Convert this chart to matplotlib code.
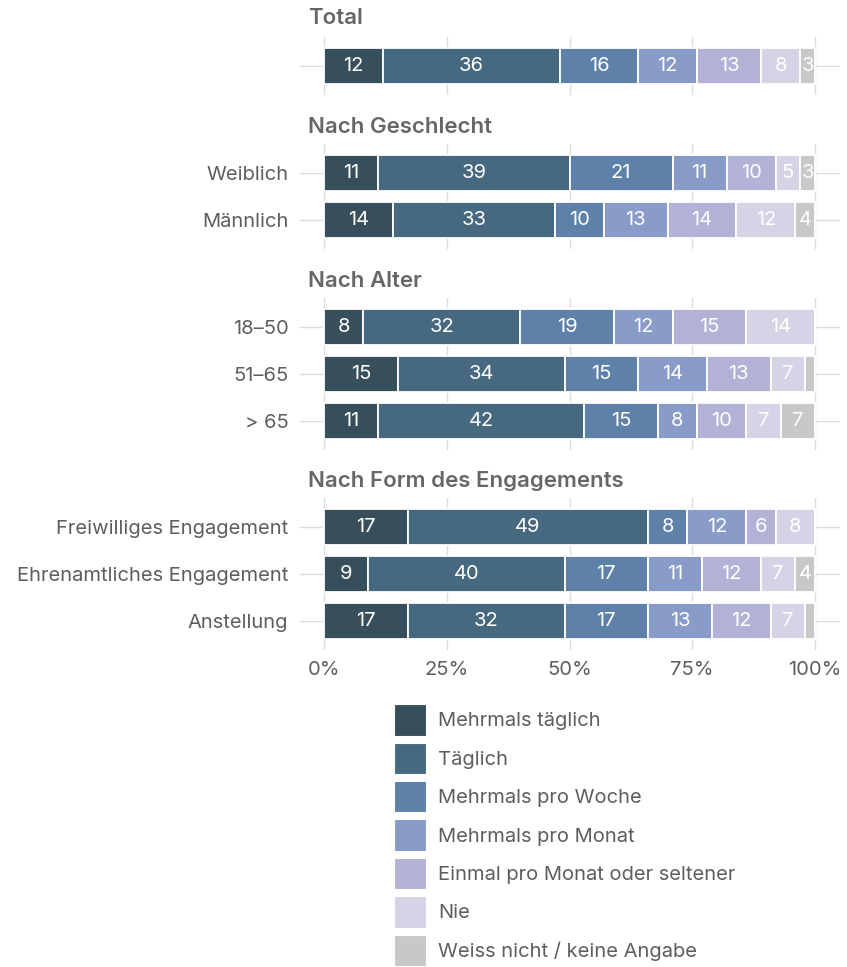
import matplotlib
matplotlib.use("Agg")
import matplotlib.pyplot as plt
from matplotlib.patches import Patch
import numpy as np

plt.rcParams['font.family'] = ['Inter', 'DejaVu Sans']

W, H = 847, 967

group_titles = ["Total", "Nach Geschlecht", "Nach Alter", "Nach Form des Engagements"]
group_rows = [
    [""],
    ["Weiblich", "Männlich"],
    ["18–50", "51–65", "> 65"],
    ["Freiwilliges Engagement", "Ehrenamtliches Engagement", "Anstellung"],
]

series_names = ["Mehrmals täglich", "Täglich", "Mehrmals pro Woche", "Mehrmals pro Monat",
                "Einmal pro Monat oder seltener", "Nie", "Weiss nicht / keine Angabe"]

# values per row, in order: Total, Weiblich, Männlich, 18–50, 51–65, > 65, Freiwilliges, Ehrenamtliches, Anstellung
mehrmals_taeglich = [12, 11, 14, 8, 15, 11, 17, 9, 17]
taeglich = [36, 39, 33, 32, 34, 42, 49, 40, 32]
mehrmals_woche = [16, 21, 10, 19, 15, 15, 8, 17, 17]
mehrmals_monat = [12, 11, 13, 12, 14, 8, 12, 11, 13]
einmal_monat = [13, 10, 14, 15, 13, 10, 6, 12, 12]
nie = [8, 5, 12, 14, 7, 7, 8, 7, 7]
weiss_nicht = [3, 3, 4, 0, 2, 7, 0, 4, 2]

x_ticks = [0, 25, 50, 75, 100]
x_ticklabels = ["0%", "25%", "50%", "75%", "100%"]

colors = ["#374e5b", "#46697f", "#5d81a9", "#899bc9", "#b2b2d7", "#d5d3e6", "#c8c8c8"]

series = [mehrmals_taeglich, taeglich, mehrmals_woche, mehrmals_monat, einmal_monat, nie, weiss_nicht]

fig = plt.figure(figsize=(W / 100, H / 100), dpi=100)

row_px = 47.0
pad = 0.62
left_px, right_px = 299.5, 839.5
centers_first = [66, 173, 327, 527]
title_y = [18, 127, 281, 481]
text_col = "#5e5e5e"
grid_col = "#dddddd"
fs = 14.5

row_index = 0
for g, (title, rows) in enumerate(zip(group_titles, group_rows)):
    n = len(rows)
    top = centers_first[g] - pad * row_px
    height = (n - 1 + 2 * pad) * row_px
    ax = fig.add_axes([left_px / W, 1 - (top + height) / H, (right_px - left_px) / W, height / H])
    ax.set_xlim(-5, 105)
    ax.set_ylim(n - 1 + pad, -pad)
    ax.set_axisbelow(True)
    for s in ax.spines.values():
        s.set_visible(False)
    ypos = np.arange(n)
    left = np.zeros(n)
    for k, vals in enumerate(series):
        v = np.array(vals[row_index:row_index + n], dtype=float)
        ax.barh(ypos, v, left=left, height=0.745, color=colors[k], edgecolor="white", linewidth=1.3)
        for i in range(n):
            if v[i] >= 3:
                ax.text(left[i] + v[i] / 2, ypos[i], f"{int(v[i])}", ha="center", va="center",
                        color="white", fontsize=fs)
        left = left + v
    ax.set_yticks(ypos)
    ax.set_yticklabels(rows, fontsize=fs, color=text_col)
    ax.set_xticks(x_ticks)
    ax.tick_params(axis="both", length=0)
    ax.tick_params(axis="y", pad=8)
    ax.grid(True, axis="both", color=grid_col, linewidth=1.0)
    if g == len(group_titles) - 1:
        ax.set_xticklabels(x_ticklabels, fontsize=fs, color=text_col)
        ax.tick_params(axis="x", pad=8)
    else:
        ax.set_xticklabels([])
    fig.text(308 / W, 1 - title_y[g] / H, title, fontsize=16, fontweight="semibold",
             color="#666666", ha="left", va="center")
    row_index += n

handles = [Patch(facecolor=c, edgecolor="white", linewidth=0.8) for c in colors]
fs_px = fs * 100 / 72
box = 31.4 / fs_px
hh = (box - 0.245) / 0.65
fig.legend(handles, series_names, loc="upper left",
           bbox_to_anchor=(394.3 / W, 1 - 704.3 / H), frameon=False, fontsize=fs,
           handlelength=box, handleheight=hh, labelspacing=7.0 / fs_px,
           handletextpad=12.3 / fs_px, borderpad=0, borderaxespad=0, labelcolor=text_col)

fig.savefig("out.png", dpi=100)
